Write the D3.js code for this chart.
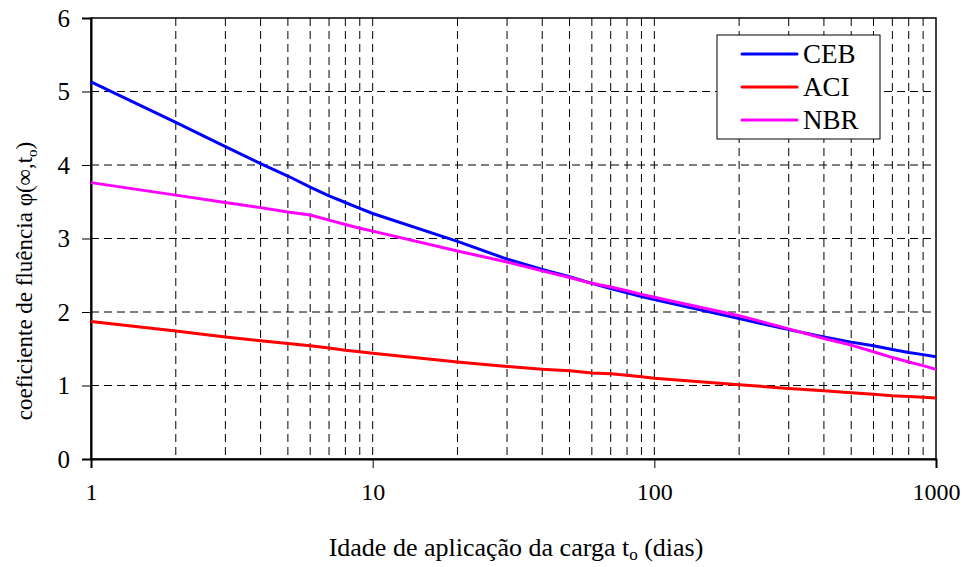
<!DOCTYPE html>
<html><head><meta charset="utf-8">
<script src="https://cdn.jsdelivr.net/npm/d3@7"></script>
<style>body{margin:0;background:#fff}svg{display:block}</style>
</head><body><svg id="c" width="966" height="567"></svg>
<script>
const days = [1,2,3,4,5,6,7,8,9,10,20,30,40,50,60,70,80,90,100,200,300,400,500,600,700,800,900,1000];
const ceb = [5.13,4.58,4.25,4.02,3.85,3.70,3.58,3.49,3.41,3.34,2.96,2.72,2.58,2.48,2.39,2.32,2.26,2.21,2.17,1.91,1.76,1.66,1.59,1.54,1.49,1.45,1.42,1.39];
const aci = [1.87,1.74,1.66,1.61,1.57,1.54,1.51,1.48,1.46,1.44,1.32,1.26,1.22,1.20,1.17,1.16,1.14,1.12,1.10,1.01,0.96,0.93,0.90,0.88,0.86,0.85,0.84,0.83];
const nbr = [3.76,3.59,3.49,3.42,3.36,3.32,3.25,3.19,3.14,3.10,2.83,2.68,2.56,2.47,2.39,2.34,2.29,2.24,2.20,1.95,1.77,1.64,1.55,1.46,1.38,1.32,1.27,1.22];
const seriesNames = ["CEB","ACI","NBR"];
const seriesColors = ["#0000ff","#ff0000","#ff00ff"];
const yTicks = [0,1,2,3,4,5,6];
const xTicks = [1,10,100,1000];
const xGrid = [2,3,4,5,6,7,8,9,10,20,30,40,50,60,70,80,90,100,200,300,400,500,600,700,800,900];

const FONT = "'Liberation Serif', 'Times New Roman', serif";
const svg = d3.select("#c");
const L=91,R=936,T=18,B=459;
const x = d3.scaleLog().domain([1,1000]).range([L,R]);
const y = d3.scaleLinear().domain([0,6]).range([B,T]);

// grid
svg.append("g").selectAll("line").data(xGrid).join("line")
  .attr("x1",d=>x(d)).attr("x2",d=>x(d)).attr("y1",T).attr("y2",B)
  .attr("stroke","#000").attr("stroke-width",1).attr("stroke-dasharray","8,5");
svg.append("g").selectAll("line").data(yTicks.filter(d=>d>0&&d<6)).join("line")
  .attr("x1",L).attr("x2",R).attr("y1",d=>y(d)).attr("y2",d=>y(d))
  .attr("stroke","#000").attr("stroke-width",1).attr("stroke-dasharray","8,5");

// frame
svg.append("rect").attr("x",L).attr("y",T).attr("width",R-L).attr("height",B-T)
  .attr("fill","none").attr("stroke","#000").attr("stroke-width",1.5);

// axes
const yAxis = d3.axisLeft(y).tickValues(yTicks).tickFormat(d3.format("d")).tickSize(9).tickPadding(12);
const gy = svg.append("g").attr("transform",`translate(${L},0)`).call(yAxis);
gy.attr("font-family",null).attr("font-size",null);
gy.select(".domain").attr("stroke-width",2);
gy.selectAll("text").style("font-family",FONT).style("font-size","25px");
const xAxis = d3.axisBottom(x).tickValues(xTicks).tickFormat(d3.format("d")).tickSize(9).tickPadding(15);
const gx = svg.append("g").attr("transform",`translate(0,${B})`).call(xAxis);
gx.attr("font-family",null).attr("font-size",null);
gx.select(".domain").attr("stroke-width",2);
gx.selectAll("text").style("font-family",FONT).style("font-size","24px");

// lines
const data = [ceb,aci,nbr];
const line = d3.line().x((d,i)=>x(days[i])).y(d=>y(d));
[1,0,2].forEach(k=>{
  svg.append("path").datum(data[k]).attr("d",line).attr("fill","none")
    .attr("stroke",seriesColors[k]).attr("stroke-width",3).attr("stroke-linejoin","round");
});

// legend
const lg = svg.append("g");
lg.append("rect").attr("x",717).attr("y",35).attr("width",163).attr("height",104)
  .attr("fill","#fff").attr("stroke","#000").attr("stroke-width",1);
seriesNames.forEach((n,i)=>{
  const yy = 54 + i*33;
  lg.append("line").attr("x1",742).attr("x2",797).attr("y1",yy).attr("y2",yy)
    .attr("stroke",seriesColors[i]).attr("stroke-width",3).attr("stroke-linecap","round");
  lg.append("text").attr("x",803).attr("y",yy+9).style("font-family",FONT).style("font-size","27px").text(n);
});

// axis titles
const xt = svg.append("text").attr("x",516).attr("y",556).attr("text-anchor","middle")
  .style("font-family",FONT).style("font-size","26px");
xt.append("tspan").text("Idade de aplicação da carga t");
xt.append("tspan").attr("dy",4).style("font-size","17px").text("o");
xt.append("tspan").attr("dy",-4).text(" (dias)");

const yt = svg.append("text").attr("transform","translate(32,281) rotate(-90)").attr("text-anchor","middle")
  .style("font-family",FONT).style("font-size","23px");
yt.append("tspan").text("coeficiente de fluência φ(∞,t");
yt.append("tspan").attr("dy",5).style("font-size","15px").text("o");
yt.append("tspan").attr("dy",-5).text(")");
</script></body></html>
